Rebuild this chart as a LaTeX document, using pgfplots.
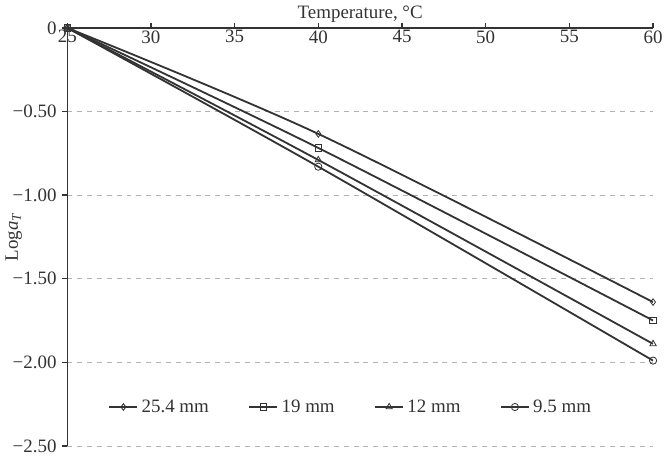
\documentclass[border=0pt]{standalone}
\usepackage{fontspec}
\setmainfont{Liberation Serif}
\usepackage{pgfplots}
\pgfplotsset{compat=1.18}
\begin{document}
\begin{tikzpicture}
\begin{axis}[
  width=356pt, height=254pt, scale only axis,
  xmin=25, xmax=60, ymin=-2.5, ymax=0,
  axis x line=top, axis y line=left,
  axis line style={-, thick, black!80},
  xtick={25,30,...,60},
  ytick={-2.5,-2,-1.5,-1,-0.5,0},
  yticklabels={−2.50,−2.00,−1.50,−1.00,−0.50,0},
  tick align=outside, tick style={black!80, thick},
  major tick length=3pt,
  /pgf/number format/assume math mode=true,
  ymajorgrids, grid style={dashed, gray!60},
  tick label style={font=\fontsize{11.5}{13}\selectfont, text=black!80},
  xticklabel style={anchor=north, yshift=-1pt},
  xlabel={Temperature, °C},
  xlabel style={at={(axis description cs:0.5,1)}, anchor=south, yshift=0pt, font=\fontsize{11.5}{13}\selectfont, text=black!80},
  ylabel={Log\textit{a}\textsubscript{\textit{T}}},
  ylabel style={at={(axis description cs:0,0.5)}, anchor=south, yshift=24pt, font=\fontsize{11.5}{13}\selectfont, text=black!80},
  legend style={draw=none, fill=none, at={(0.485,0.093)}, anchor=center, font=\fontsize{11.5}{13}\selectfont, text=black!80},
  legend columns=4,
  legend cell align=left,
  /tikz/every even column/.append style={column sep=22pt},
]
\addplot[line width=1.1pt, black!80, smooth, mark=diamond, mark size=2pt, mark options={solid, fill=white, line width=0.5pt}] coordinates {(25,0) (40,-0.634) (60,-1.64)};
\addlegendentry{25.4 mm}
\addplot[line width=1.1pt, black!80, smooth, mark=square, mark size=2pt, mark options={solid, fill=white, line width=0.5pt}] coordinates {(25,0) (40,-0.718) (60,-1.75)};
\addlegendentry{19 mm}
\addplot[line width=1.1pt, black!80, smooth, mark=triangle, mark size=2.2pt, mark options={solid, fill=white, line width=0.5pt}] coordinates {(25,0) (40,-0.79) (60,-1.89)};
\addlegendentry{12 mm}
\addplot[line width=1.1pt, black!80, smooth, mark=o, mark size=2.2pt, mark options={solid, fill=white, line width=0.5pt}] coordinates {(25,0) (40,-0.83) (60,-1.99)};
\addlegendentry{9.5 mm}
\end{axis}
\end{tikzpicture}
\end{document}
